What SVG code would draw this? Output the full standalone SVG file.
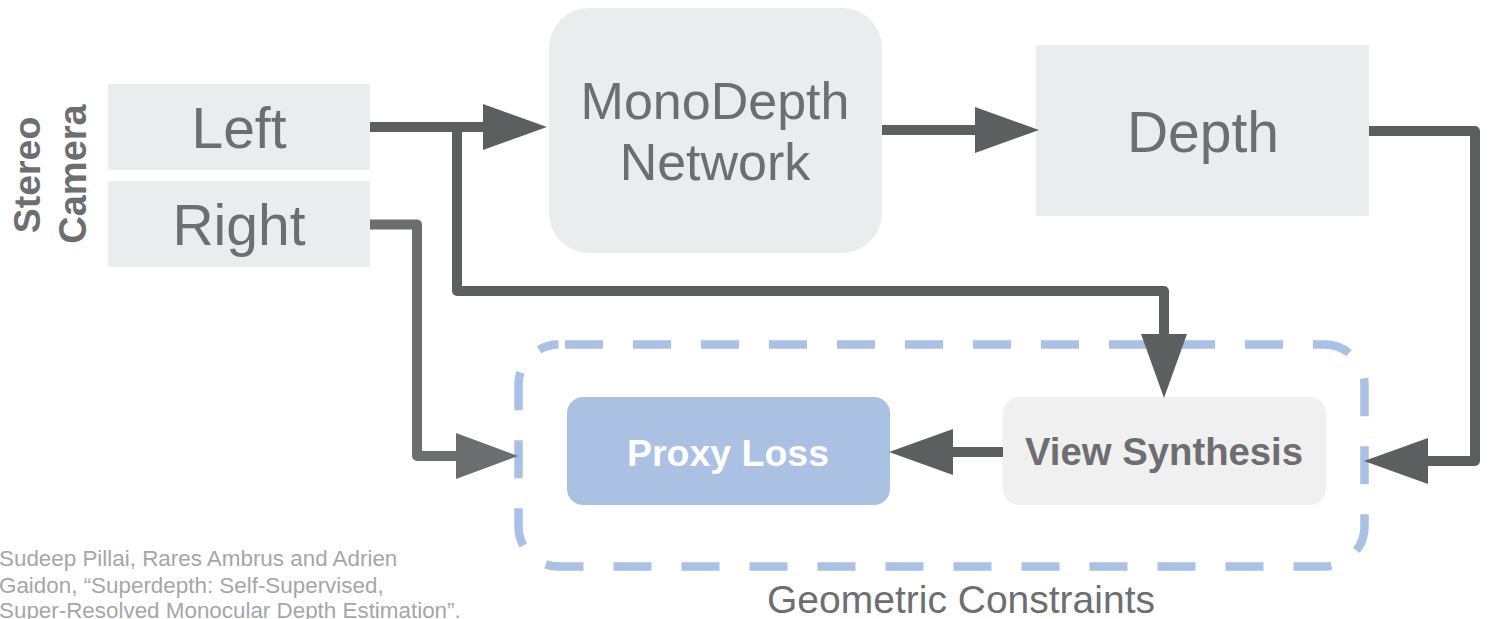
<svg xmlns="http://www.w3.org/2000/svg" width="1491" height="619" viewBox="0 0 1491 619">
<style>
.lbl{font-family:"Liberation Sans",Arial,sans-serif;fill:#6d6e71;text-anchor:middle}
.bold{font-weight:bold}
.box{fill:#ebecee}
.conn{fill:none;stroke:#5d5e60;stroke-width:10;stroke-linejoin:round}
.conn2{fill:none;stroke:#6c6d6f;stroke-width:10;stroke-linejoin:round}
.cite{font-family:"Liberation Sans",Arial,sans-serif;fill:#a5a6a8;font-size:22.4px}
</style>
<defs>
<marker id="ah" markerUnits="userSpaceOnUse" viewBox="0 -24 64 48" markerWidth="64" markerHeight="48" refX="0" refY="0" orient="auto" overflow="visible">
<path d="M0,-23 L64,0 L0,23 Z" fill="#5d5e60"/>
</marker>
<marker id="ah2" markerUnits="userSpaceOnUse" viewBox="0 -24 64 48" markerWidth="64" markerHeight="48" refX="0" refY="0" orient="auto" overflow="visible">
<path d="M0,-23 L62,0 L0,23 Z" fill="#6c6d6f"/>
</marker>
</defs>
<rect width="1491" height="619" fill="#ffffff"/>

<g id="geometric-constraints">
<rect x="518.5" y="344.5" width="846" height="222" rx="40" fill="none" stroke="#a9c1e5" stroke-width="8.5" stroke-dasharray="38 30" stroke-dashoffset="-6.5"/>
<text class="lbl" x="961" y="613" font-size="39">Geometric Constraints</text>
</g>

<g id="stereo-camera">
<text class="lbl bold" transform="translate(40,175) rotate(-90)" font-size="37.5">Stereo</text>
<text class="lbl bold" transform="translate(86,174) rotate(-90)" font-size="38">Camera</text>
</g>

<g id="left">
<rect class="box" x="108" y="84" width="262" height="86"/>
<text class="lbl" x="239" y="148" font-size="57">Left</text>
</g>

<g id="right">
<rect class="box" x="108" y="181" width="262" height="86"/>
<text class="lbl" x="239" y="245" font-size="57">Right</text>
</g>

<g id="monodepth">
<rect class="box" x="549" y="8" width="333" height="245" rx="40"/>
<text class="lbl" x="715" y="119" font-size="52">MonoDepth</text>
<text class="lbl" x="715" y="180" font-size="52">Network</text>
</g>

<g id="depth">
<rect class="box" x="1036" y="45" width="333" height="171"/>
<text class="lbl" x="1203" y="152" font-size="57">Depth</text>
</g>

<g id="view-synthesis">
<rect x="1003" y="397" width="323" height="108" rx="16" fill="#eff0ef"/>
<text class="lbl bold" x="1164" y="465" font-size="38.3">View Synthesis</text>
</g>

<g id="proxy-loss">
<rect x="567" y="397" width="323" height="108" rx="16" fill="#abc1e3"/>
<text class="lbl bold" x="728" y="466" font-size="37.5" style="fill:#ffffff">Proxy Loss</text>
</g>

<g id="connectors">
<path class="conn" d="M457,127 V291 H1164 V334" marker-end="url(#ah)"/>
<path class="conn" d="M370,127 H483" marker-end="url(#ah)"/>
<path class="conn2" d="M370,224.5 H417 V456 H456" marker-end="url(#ah2)"/>
<path class="conn" d="M882,130 H975" marker-end="url(#ah)"/>
<path class="conn" d="M1369,131 H1475 V461 H1428" marker-end="url(#ah)"/>
<path class="conn" d="M1003,452 H953" marker-end="url(#ah)"/>
</g>

<g id="citation">
<text class="cite" x="-1" y="566">Sudeep Pillai, Rares Ambrus and Adrien</text>
<text class="cite" x="-1" y="592.5">Gaidon, “Superdepth: Self-Supervised,</text>
<text class="cite" x="-1" y="618">Super-Resolved Monocular Depth Estimation”.</text>
</g>
</svg>
